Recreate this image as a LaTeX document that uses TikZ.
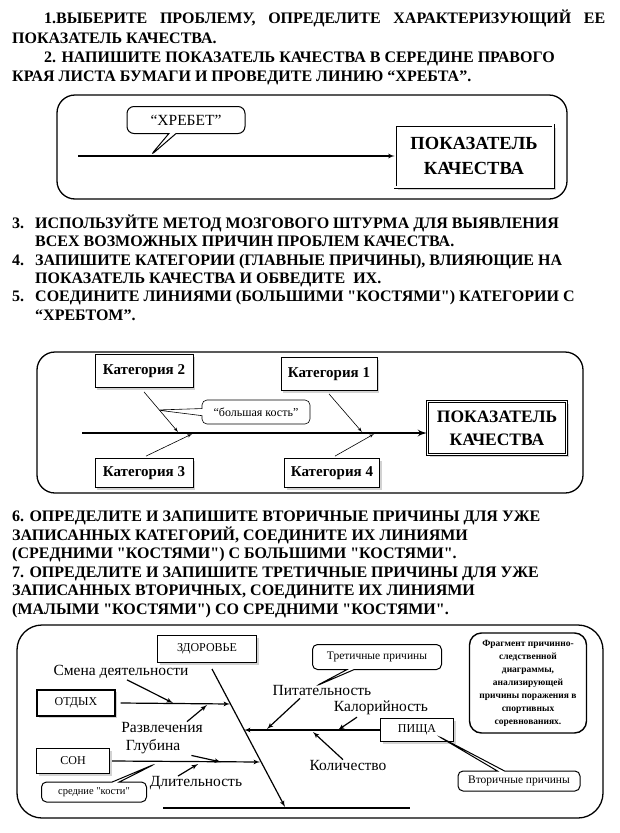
\documentclass[tikz,border=0pt]{standalone}
\usepackage{fontspec}
\setmainfont{Liberation Serif}[Ligatures=TeXOff]
\usetikzlibrary{shapes,arrows,shadows}

\begin{document}
\begin{tikzpicture}[x=1pt,y=-1pt,
    task_text/.style ={anchor=base west, inner sep=0pt, font=\bfseries\fontsize{16}{19}\selectfont},
    panel/.style ={draw=black, line width=1.3pt, rounded corners=18pt},
    block_result/.style ={rectangle, draw=black, double, double distance=1.4pt, line width=0.8pt,
      fill=white, align=center, font=\bfseries\fontsize{17.5}{23}\selectfont,
      drop shadow={shadow xshift=2.5pt, shadow yshift=-2.5pt, fill=gray!70}},
    block_category/.style ={rectangle, draw=black, line width=0.8pt, fill=white, inner sep=2pt,
      font=\bfseries\fontsize{15}{17}\selectfont,
      drop shadow={shadow xshift=2pt, shadow yshift=-2pt, fill=gray!70}},
    block_cause/.style ={rectangle, draw=black, line width=1.3pt, fill=white, inner sep=2pt,
      font=\fontsize{12}{14}\selectfont,
      drop shadow={shadow xshift=2pt, shadow yshift=-2pt, fill=gray!70}},
    block_note/.style ={rectangle, draw=black, line width=1.4pt, fill=white, rounded corners=12pt,
      align=center, inner sep=1pt, font=\bfseries\fontsize{9.5}{13}\selectfont},
    callout_note/.style ={rectangle callout, draw=black, line width=1pt, fill=white,
      rounded corners=5pt, inner sep=2pt},
    cause_text/.style ={inner sep=1pt, font=\fontsize{15.5}{17}\selectfont},
    bone/.style ={draw, line width=0.6pt, -latex'},
    bone_mid/.style ={draw, line width=1.2pt, -latex'},
    spine/.style ={draw, line width=2.2pt, -latex'}]
  \useasboundingbox (0,0) rectangle (619,833);
  % task 1-2
  \node [task_text] (t1) at (44,23) {\makebox[561pt][s]{1.ВЫБЕРИТЕ ПРОБЛЕМУ, ОПРЕДЕЛИТЕ ХАРАКТЕРИЗУЮЩИЙ ЕЕ}};
  \node [task_text] (t2) at (12,43) {ПОКАЗАТЕЛЬ КАЧЕСТВА.};
  \node [task_text] (t3) at (44,62) {2. НАПИШИТЕ ПОКАЗАТЕЛЬ КАЧЕСТВА В СЕРЕДИНЕ ПРАВОГО};
  \node [task_text] (t4) at (12,81) {КРАЯ ЛИСТА БУМАГИ И ПРОВЕДИТЕ ЛИНИЮ “ХРЕБТА”.};
  % panel 1
  \draw [panel] (57,95) rectangle (567,199);
  \node [block_result, minimum width=158, minimum height=62, font=\bfseries\fontsize{18.5}{25}\selectfont]
    (result1) at (474,156) {ПОКАЗАТЕЛЬ\\КАЧЕСТВА};
  \coordinate (spine1_start) at (78,156);
  \coordinate (spine1_tip) at (150,156);
  \path [spine, line width=1.2pt] (spine1_start) -- (result1.west);
  \node [callout_note, rounded corners=7pt, minimum width=118, minimum height=27,
    callout absolute pointer={(spine1_tip)}, font=\fontsize{15.5}{17}\selectfont]
    (spine_note) at (186,120) {“ХРЕБЕТ”};
  % task 3-5
  \node [task_text] (t5) at (12,228) {3.};
  \node [task_text] (t6) at (35,228) {ИСПОЛЬЗУЙТЕ МЕТОД МОЗГОВОГО ШТУРМА ДЛЯ ВЫЯВЛЕНИЯ};
  \node [task_text] (t7) at (35,246) {ВСЕХ ВОЗМОЖНЫХ ПРИЧИН ПРОБЛЕМ КАЧЕСТВА.};
  \node [task_text] (t8) at (12,265) {4.};
  \node [task_text] (t9) at (35,265) {ЗАПИШИТЕ КАТЕГОРИИ (ГЛАВНЫЕ ПРИЧИНЫ), ВЛИЯЮЩИЕ НА};
  \node [task_text] (t10) at (35,283) {ПОКАЗАТЕЛЬ КАЧЕСТВА И ОБВЕДИТЕ \ ИХ.};
  \node [task_text] (t11) at (12,301) {5.};
  \node [task_text] (t12) at (35,301) {СОЕДИНИТЕ ЛИНИЯМИ (БОЛЬШИМИ "КОСТЯМИ") КАТЕГОРИИ С};
  \node [task_text] (t13) at (35,320) {“ХРЕБТОМ”.};
  % panel 2
  \draw [panel] (37,352) rectangle (583,493);
  \node [block_result, minimum width=139, minimum height=53] (result2) at (497,428)
    {ПОКАЗАТЕЛЬ\\КАЧЕСТВА};
  \coordinate (spine2_start) at (82,433);
  \path [spine] (spine2_start) -- (spine2_start -| result2.west);
  \node [block_category, minimum width=98, minimum height=33] (cat2) at (144,371) {Категория 2};
  \node [block_category, minimum width=96, minimum height=33] (cat1) at (329,374) {Категория 1};
  \node [block_category, minimum width=98, minimum height=29] (cat3) at (144,473) {Категория 3};
  \node [block_category, minimum width=95, minimum height=29] (cat4) at (332,473) {Категория 4};
  \coordinate (cat2_end) at (178,432);
  \coordinate (cat1_end) at (362,432);
  \coordinate (cat3_end) at (192,434);
  \coordinate (cat4_end) at (374,434);
  \coordinate (bone_tip) at (157,410);
  \begin{scope}[every path/.style=bone]
    \path ([yshift=-4pt]cat2.south) -- (cat2_end);
    \path ([yshift=-3pt]cat1.south) -- (cat1_end);
    \path ([xshift=2pt,yshift=2pt]cat3.north) -- (cat3_end);
    \path ([xshift=3pt,yshift=2pt]cat4.north) -- (cat4_end);
  \end{scope}
  \node [callout_note, line width=0.6pt, minimum width=108, minimum height=24,
    callout absolute pointer={(bone_tip)}, font=\fontsize{12}{14}\selectfont]
    (bone_note) at (256,412) {“большая кость”};
  % task 6-7
  \node [task_text] (t14) at (12,521) {6. ОПРЕДЕЛИТЕ И ЗАПИШИТЕ ВТОРИЧНЫЕ ПРИЧИНЫ ДЛЯ УЖЕ};
  \node [task_text] (t15) at (12,540) {ЗАПИСАННЫХ КАТЕГОРИЙ, СОЕДИНИТЕ ИХ ЛИНИЯМИ};
  \node [task_text] (t16) at (12,558) {(СРЕДНИМИ "КОСТЯМИ") С БОЛЬШИМИ "КОСТЯМИ".};
  \node [task_text] (t17) at (12,577) {7. ОПРЕДЕЛИТЕ И ЗАПИШИТЕ ТРЕТИЧНЫЕ ПРИЧИНЫ ДЛЯ УЖЕ};
  \node [task_text] (t18) at (12,595) {ЗАПИСАННЫХ ВТОРИЧНЫХ, СОЕДИНИТЕ ИХ ЛИНИЯМИ};
  \node [task_text] (t19) at (12,614) {(МАЛЫМИ "КОСТЯМИ") СО СРЕДНИМИ "КОСТЯМИ".};
  % panel 3
  \draw [panel, rounded corners=25pt] (17,625) rectangle (603,818);
  \node [block_cause, minimum width=99, minimum height=27] (health) at (207,649) {ЗДОРОВЬЕ};
  \node [block_cause, minimum width=78, minimum height=26] (rest) at (76,703) {ОТДЫХ};
  \node [block_cause, minimum width=73, minimum height=25] (sleep) at (73,761) {СОН};
  \node [block_cause, minimum width=73, minimum height=23] (food) at (417,730) {ПИЩА};
  \node [block_note, minimum width=117, minimum height=100] (fragment) at (528,683)
    {Фрагмент причинно-\\следственной\\диаграммы,\\анализирующей\\причины поражения в\\спортивных\\соревнованиях.};
  \node [cause_text] (change) at (121,672) {Смена деятельности};
  \node [cause_text] (fun) at (162,727) {Развлечения};
  \node [cause_text] (depth) at (153,747) {Глубина};
  \node [cause_text] (length) at (196,783) {Длительность};
  \node [cause_text] (nutrition) at (322,690) {Питательность};
  \node [cause_text] (calories) at (381,708) {Калорийность};
  \node [cause_text] (amount) at (348,765) {Количество};
  \coordinate (diag_start) at (212,669);
  \coordinate (diag_end) at (285,807);
  \coordinate (spine3_start) at (163,808);
  \coordinate (spine3_end) at (410,808);
  \coordinate (rest_end) at (230,704);
  \coordinate (sleep_end) at (260,762);
  \coordinate (food_end) at (244,730);
  \coordinate (change_end) at (173,703);
  \coordinate (fun_end) at (207,705);
  \coordinate (depth_end) at (221,762);
  \coordinate (length_end) at (198,764);
  \coordinate (nutrition_end) at (267,729);
  \coordinate (calories_end) at (338,730);
  \coordinate (amount_end) at (313,732);
  \path [draw, line width=2pt] (spine3_start) -- (spine3_end);
  \begin{scope}[every path/.style=bone_mid]
    \path (diag_start) -- (diag_end);
    \path ([xshift=5pt]rest.east) -- (rest_end);
    \path ([xshift=2pt]sleep.east) -- (sleep_end);
    \path (food.west) -- (food_end);
    \path ([xshift=6pt]change.south) -- (change_end);
    \path ([xshift=25pt,yshift=-1pt]fun.north) -- (fun_end);
    \path ([xshift=10pt]depth.south east) -- (depth_end);
    \path ([xshift=-18pt,yshift=-1pt]length.north) -- (length_end);
    \path ([xshift=-22pt,yshift=-2pt]nutrition.south) -- (nutrition_end);
    \path ([xshift=-24pt,yshift=-1pt]calories.south) -- (calories_end);
    \path ([xshift=-5pt,yshift=-1pt]amount.north) -- (amount_end);
  \end{scope}
  \coordinate (tertiary_tip) at (316,686);
  \coordinate (secondary_tip) at (438,736);
  \coordinate (middle_tip) at (155,764);
  \node [callout_note, minimum width=129, minimum height=25, callout absolute pointer={(tertiary_tip)},
    font=\fontsize{11.5}{13}\selectfont] (tertiary) at (377,657) {Третичные причины};
  \node [callout_note, minimum width=122, minimum height=20, callout absolute pointer={(secondary_tip)},
    font=\fontsize{11.5}{13}\selectfont] (secondary) at (519,781) {Вторичные причины};
  \node [callout_note, minimum width=105, minimum height=20, callout absolute pointer={(middle_tip)},
    font=\fontsize{10.5}{12}\selectfont] (middle) at (94,792) {средние "кости"};
\end{tikzpicture}
\end{document}
